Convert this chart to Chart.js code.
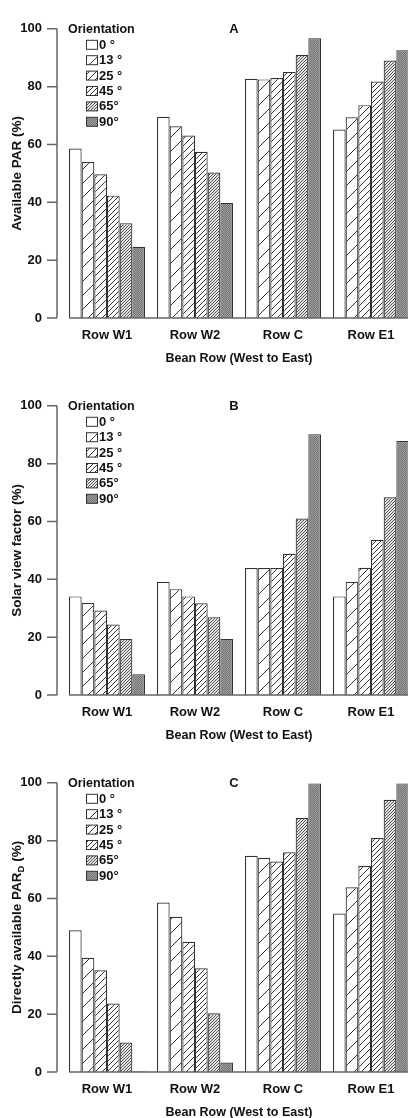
<!DOCTYPE html>
<html>
<head>
<meta charset="utf-8">
<script src="https://cdn.jsdelivr.net/npm/chart.js@4.4.1/dist/chart.umd.min.js"></script>
<style>
  html, body { margin: 0; padding: 0; background: #fff; }
  #wrap { position: relative; width: 408px; height: 1118px; overflow: hidden; background: #fff; }
  .panel { position: absolute; left: 0; width: 420px; height: 377px; }
</style>
</head>
<body>
<div id="wrap">
  <div class="panel" style="top:0px"><canvas id="chartA" width="420" height="377"></canvas></div>
  <div class="panel" style="top:377px"><canvas id="chartB" width="420" height="377"></canvas></div>
  <div class="panel" style="top:754px"><canvas id="chartC" width="420" height="377"></canvas></div>
</div>
<script>
// categories and legend labels
const rows = ["Row W1", "Row W2", "Row C", "Row E1"];
const orientations = ["0 °", "13 °", "25 °", "45 °", "65°", "90°"];
const yTicks = [0, 20, 40, 60, 80, 100];

// panel A - available PAR (%), one array per orientation, W1..E1
const availablePar = [
  [58.6, 69.6, 82.7, 65.2],
  [53.9, 66.3, 82.5, 69.4],
  [49.7, 63.1, 83.0, 73.6],
  [42.3, 57.5, 85.1, 81.8],
  [32.8, 50.3, 91.0, 89.0],
  [24.6, 39.8, 96.7, 92.6],
];

// panel B - solar view factor (%)
const solarViewFactor = [
  [34.1, 39.1, 43.9, 34.1],
  [31.8, 36.6, 43.9, 39.1],
  [29.2, 34.1, 43.9, 44.0],
  [24.4, 31.7, 48.8, 53.7],
  [19.4, 26.9, 61.0, 68.4],
  [7.2, 19.4, 90.2, 87.8],
];

// panel C - directly available PAR_D (%)
const directPar = [
  [49.0, 58.6, 74.8, 54.8],
  [39.5, 53.7, 74.1, 63.9],
  [35.2, 45.0, 72.8, 71.2],
  [23.7, 35.9, 76.0, 80.9],
  [10.2, 20.3, 87.8, 94.1],
  [0.3, 3.3, 99.8, 99.8],
];

const FONT = "'Liberation Sans', Arial, sans-serif";
const TEXT = '#111';
const AXIS = '#666';
const EDGE = '#333';

// diagonal "/" hatch tiles, denser for steeper orientation
function hatch(step, fg, bg, lw) {
  const c = document.createElement('canvas');
  c.width = c.height = step;
  const g = c.getContext('2d');
  g.fillStyle = bg;
  g.fillRect(0, 0, step, step);
  g.strokeStyle = fg;
  g.lineWidth = lw;
  g.beginPath();
  g.moveTo(-1, step + 1); g.lineTo(step + 1, -1);
  g.moveTo(-1, 1); g.lineTo(1, -1);
  g.moveTo(step - 1, step + 1); g.lineTo(step + 1, step - 1);
  g.stroke();
  return g.createPattern(c, 'repeat');
}

const fills = [
  '#ffffff',
  hatch(14, '#333', '#fff', 1),
  hatch(7, '#333', '#fff', 1),
  hatch(5, '#333', '#fff', 1),
  hatch(3, '#444', '#e4e4e4', 0.9),
  hatch(2, '#666', '#a0a0a0', 0.8),
];

// axis line, tick marks, baseline, panel letter, legend and y title
const panelDecor = {
  id: 'panelDecor',
  afterDraw(chart, args, opts) {
    const ctx = chart.ctx;
    const area = chart.chartArea;
    const y = chart.scales.y;
    const axisX = area.left - 6;
    ctx.save();
    ctx.strokeStyle = AXIS;
    ctx.lineWidth = 1.5;
    ctx.beginPath();
    ctx.moveTo(axisX, y.getPixelForValue(100));
    ctx.lineTo(axisX, y.getPixelForValue(0));
    yTicks.forEach(v => {
      const py = y.getPixelForValue(v);
      ctx.moveTo(axisX - 10, py);
      ctx.lineTo(axisX, py);
    });
    const first = chart.getDatasetMeta(0).data[0];
    const y0 = y.getPixelForValue(0);
    ctx.moveTo(first.x - first.width / 2, y0);
    ctx.lineTo(area.right, y0);
    ctx.stroke();

    ctx.fillStyle = TEXT;
    ctx.textBaseline = 'middle';
    ctx.font = 'bold 13px ' + FONT;
    ctx.textAlign = 'center';
    ctx.fillText(opts.letter, (area.left + area.right) / 2 - 5, area.top + 1);

    // legend
    ctx.textAlign = 'left';
    ctx.font = 'bold 12.5px ' + FONT;
    ctx.fillText('Orientation', area.left + 5, area.top + 1);
    ctx.font = 'bold 13px ' + FONT;
    orientations.forEach((lab, i) => {
      const cy = area.top + 16 + i * 15.4;
      ctx.fillStyle = fills[i];
      ctx.fillRect(86, cy - 4.5, 11, 9);
      ctx.strokeStyle = EDGE;
      ctx.lineWidth = 1;
      ctx.strokeRect(86.5, cy - 4.5, 11, 9);
      ctx.fillStyle = TEXT;
      ctx.fillText(lab, 99, cy + 0.5);
    });

    // rotated y title, with an optional subscript part
    ctx.translate(17, (area.top + area.bottom) / 2);
    ctx.rotate(-Math.PI / 2);
    const parts = opts.yTitle;
    const big = 'bold 13.5px ' + FONT;
    const small = 'bold 9.5px ' + FONT;
    let total = 0;
    parts.forEach((p, i) => {
      ctx.font = i === 1 ? small : big;
      total += ctx.measureText(p).width;
    });
    let x = -total / 2;
    parts.forEach((p, i) => {
      ctx.font = i === 1 ? small : big;
      ctx.fillText(p, x, i === 1 ? 4 : 0);
      x += ctx.measureText(p).width;
    });
    ctx.restore();
  }
};

function makePanel(canvasId, letter, yTitle, values) {
  const datasets = values.map((vals, i) => ({
    label: orientations[i],
    data: vals,
    backgroundColor: fills[i],
    borderColor: EDGE,
    borderWidth: 1.2,
    categoryPercentage: 0.864,
    barPercentage: 1.0,
  }));
  return new Chart(document.getElementById(canvasId), {
    type: 'bar',
    data: { labels: rows, datasets: datasets },
    options: {
      responsive: false,
      animation: false,
      layout: { padding: { top: 16, right: 5, left: 0, bottom: 0 } },
      scales: {
        x: {
          offset: true,
          grid: { display: false, drawTicks: false },
          border: { display: false },
          ticks: { color: TEXT, padding: 10, maxRotation: 0, font: { family: FONT, size: 13, weight: 'bold' } },
          title: {
            display: true,
            text: 'Bean Row (West to East)',
            color: TEXT,
            font: { family: FONT, size: 12.5, weight: 'bold' },
            padding: { top: 0, bottom: 11 },
          },
          afterFit: (s) => { s.height = 59; },
        },
        y: {
          min: 0,
          max: 100,
          grid: { display: false, drawTicks: false },
          border: { display: false },
          ticks: { stepSize: 20, padding: 21, color: TEXT, font: { family: FONT, size: 13, weight: 'bold' } },
          afterFit: (s) => { s.width = 63; },
        },
      },
      plugins: {
        legend: { display: false },
        tooltip: { enabled: false },
        panelDecor: { letter: letter, yTitle: yTitle },
      },
    },
    plugins: [panelDecor],
  });
}

makePanel('chartA', 'A', ['Available PAR (%)'], availablePar);
makePanel('chartB', 'B', ['Solar view factor (%)'], solarViewFactor);
makePanel('chartC', 'C', ['Directly available PAR', 'D', ' (%)'], directPar);
</script>
</body>
</html>
